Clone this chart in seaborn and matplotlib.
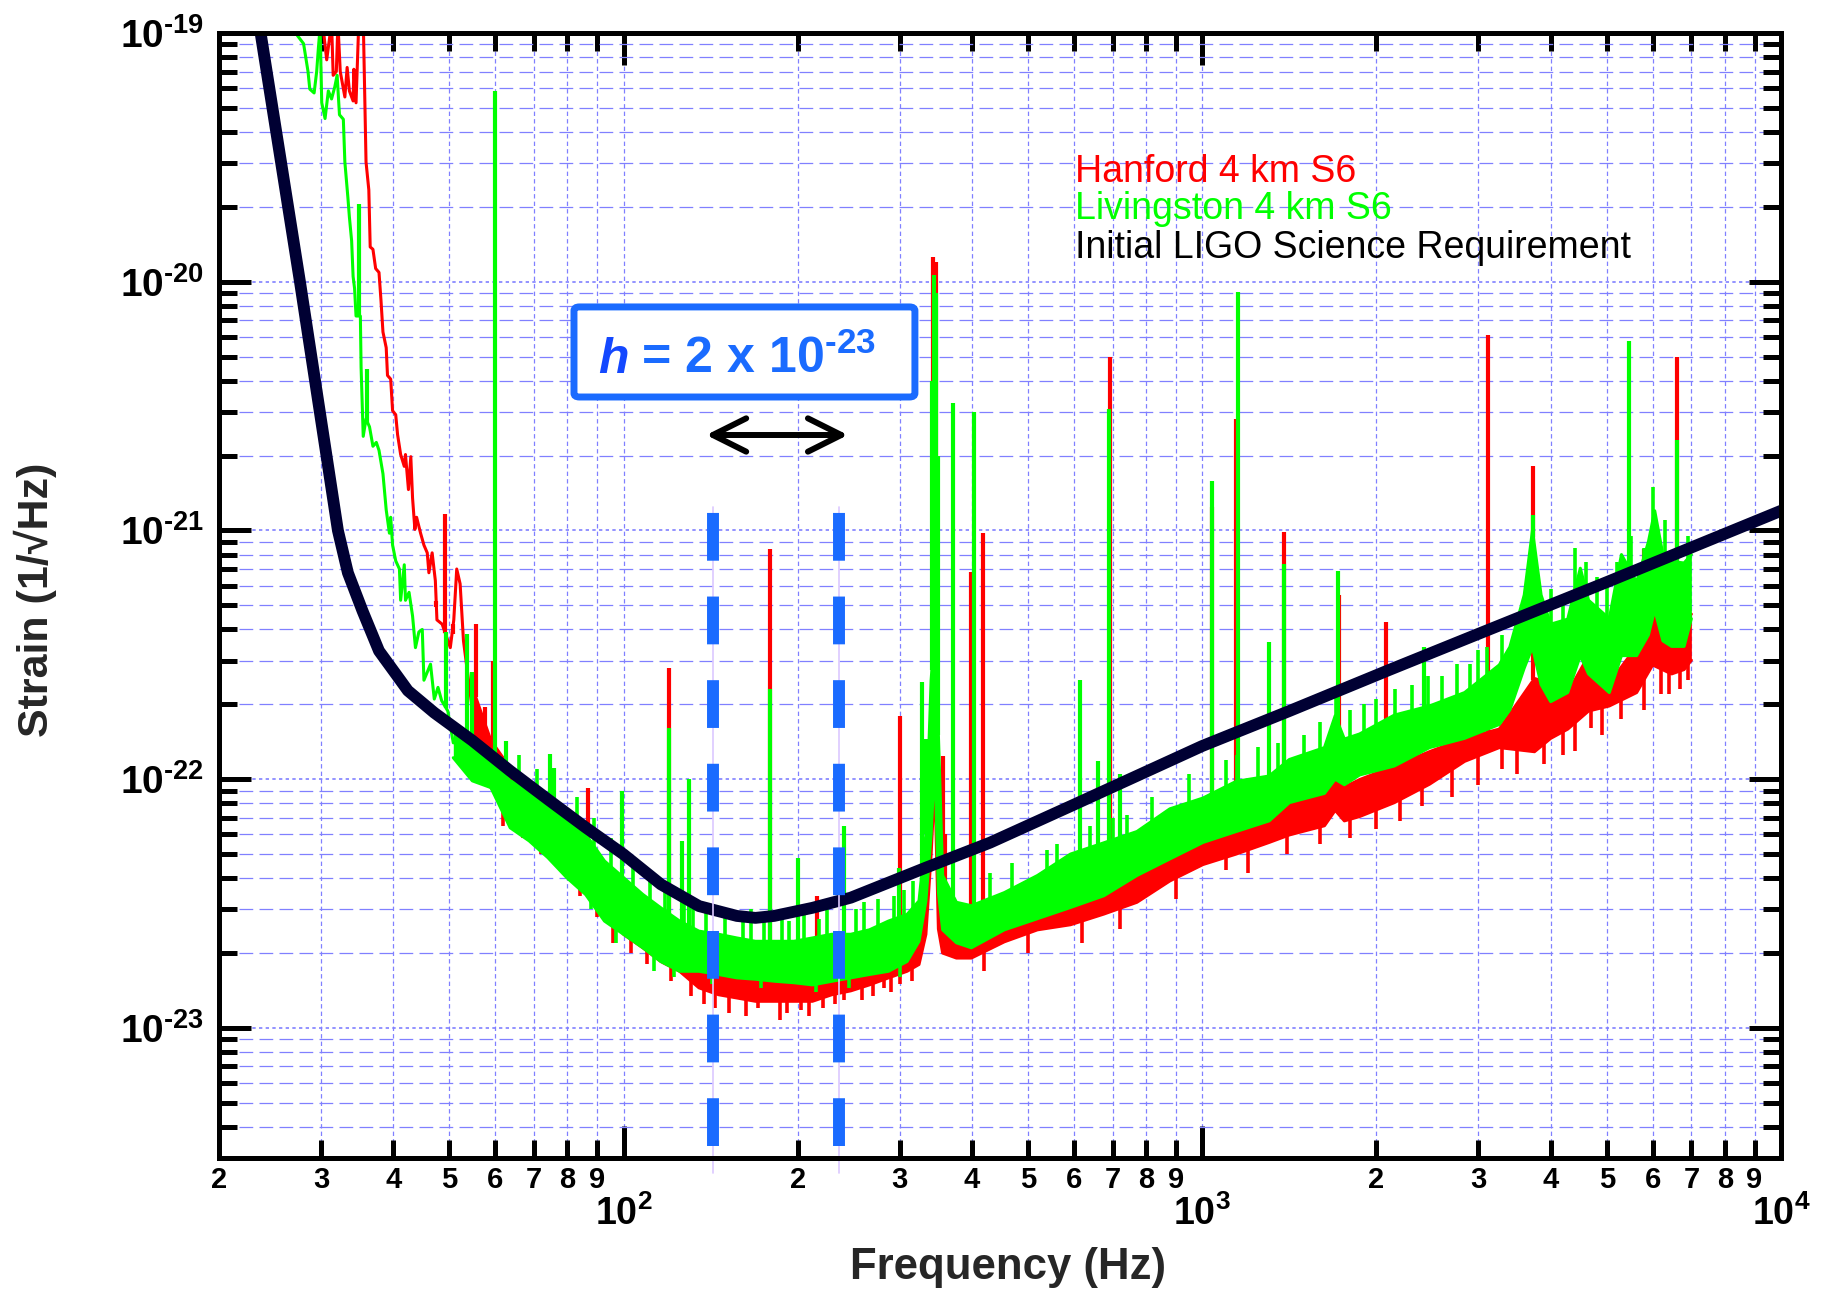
import numpy as np
import matplotlib
matplotlib.use("Agg")
import matplotlib.pyplot as plt
import seaborn as sns
from matplotlib.ticker import NullFormatter
from matplotlib.patches import FancyBboxPatch
from matplotlib.mathtext import MathTextParser
from matplotlib import font_manager

sns.set_theme(style="white")
plt.rcParams["font.family"] = ["Liberation Sans", "DejaVu Sans"]
plt.rcParams["mathtext.fontset"] = "custom"
plt.rcParams["mathtext.rm"] = "Liberation Sans:bold"
plt.rcParams["mathtext.bf"] = "Liberation Sans:bold"
plt.rcParams["mathtext.it"] = "Liberation Sans:italic"
plt.rcParams["mathtext.sf"] = "Liberation Sans"

_names = {f.name for f in font_manager.fontManager.ttflist}
NARROW = "Liberation Sans Narrow" if "Liberation Sans Narrow" in _names else "Liberation Sans"


def _has_text_cmd():
    try:
        MathTextParser("path").parse(r"$\text{-}$")
        return True
    except Exception:
        return False


HYPHEN = r"\text{-}" if _has_text_cmd() else "-"

# ---------------- data ----------------
# Initial LIGO science requirement (strain, 1/sqrt(Hz))
req_f = [23.2, 23.6, 27.6, 32.1, 33.4, 35.4, 37.8, 40.6, 42.4, 47.1, 54.8, 63.7, 74.0, 86.0,
         100, 116, 135, 157, 169, 182, 212, 247, 287, 333, 430, 600, 1000, 1414, 2096,
         3000, 5000, 10000]
req_h = [1.3e-19, 1.0e-19, 1.0e-20, 1.0e-21, 6.76e-22, 4.75e-22, 3.28e-22, 2.61e-22, 2.27e-22,
         1.85e-22, 1.43e-22, 1.08e-22, 8.3e-23, 6.4e-23, 4.99e-23, 3.78e-23, 3.09e-23,
         2.82e-23, 2.77e-23, 2.82e-23, 3.04e-23, 3.34e-23, 3.84e-23, 4.41e-23, 5.56e-23,
         7.9e-23, 1.36e-22, 1.88e-22, 2.74e-22, 3.84e-22, 6.2e-22, 1.2e-21]

# Hanford 4 km S6: low-frequency trace, noise band (upper / lower edge), lines, noise excursions
han_trace_f = [30.0, 30.2, 30.7, 31.3, 31.5, 31.9, 32.1, 32.4, 33.0, 33.3, 33.6, 34.1, 34.2,
               34.5, 34.9, 35.5, 35.9, 36.3, 36.5, 36.9, 37.3, 37.8, 38.1, 38.4, 38.9, 39.1,
               39.6, 39.9, 40.4, 40.7, 41.2, 41.8, 42.0, 42.5, 42.9, 43.2, 43.6, 43.9, 44.6,
               45.2, 45.8, 46.1, 46.7, 47.3, 47.6, 48.6, 50.2, 50.9, 51.5, 52.2, 52.9, 54.8]
han_trace_h = [1.2e-19, 1.1e-19, 7.8e-20, 1.1e-19, 6.76e-20, 7.0e-20, 1.1e-19, 7.0e-20,
               5.53e-20, 7.27e-20, 5.85e-20, 5.33e-20, 7.15e-20, 5.24e-20, 1.15e-19, 1.15e-19,
               3.03e-20, 2.34e-20, 1.38e-20, 1.35e-20, 1.13e-20, 1.09e-20, 8.42e-21, 6.28e-21,
               5.43e-21, 4.2e-21, 4.06e-21, 3.03e-21, 2.92e-21, 2.43e-21, 2.02e-21, 1.81e-21,
               2.02e-21, 1.46e-21, 1.98e-21, 1.35e-21, 1.01e-21, 1.13e-21, 9.75e-22, 8.73e-22,
               8.13e-22, 6.76e-22, 8.13e-22, 6.28e-22, 4.37e-22, 4.2e-22, 3.38e-22, 4.37e-22,
               7.0e-22, 6.1e-22, 3.6e-22, 1.9e-22]
han_band_f = [54.8, 59.0, 63.7, 68.7, 74.0, 79.8, 86.0, 92.7, 100, 108, 116, 125, 135, 146,
              157, 169, 183, 197, 212, 229, 247, 266, 287, 309, 324, 333, 340, 345, 350, 356,
              376, 399, 455, 519, 592, 676, 771, 879, 1003, 1144, 1305, 1414, 1626, 1697,
              1760, 1870, 2147, 2470, 2840, 3260, 3750, 4000, 4280, 4650, 5050, 5630, 6000,
              6470, 6800, 7000]
han_band_hi = [2.34e-22, 1.43e-22, 1.11e-22, 9.25e-23, 7.69e-23, 6.38e-23, 5.31e-23, 4.14e-23,
               3.44e-23, 3.04e-23, 2.69e-23, 2.45e-23, 2.23e-23, 2.10e-23, 2.04e-23, 1.97e-23,
               1.91e-23, 1.91e-23, 1.91e-23, 1.97e-23, 2.04e-23, 2.10e-23, 2.23e-23, 2.38e-23,
               2.69e-23, 4.41e-23, 2.0e-22, 3.0e-22, 1.0e-22, 2.8e-23, 2.48e-23, 2.36e-23,
               2.6e-23, 3.05e-23, 3.5e-23, 3.9e-23, 4.78e-23, 5.87e-23, 6.5e-23, 6.8e-23,
               7.6e-23, 8.05e-23, 8.77e-23, 1.1e-22, 9.3e-23, 9.96e-23, 1.13e-22, 1.29e-22,
               1.46e-22, 1.59e-22, 2.54e-22, 2.43e-22, 2.23e-22, 3.14e-22, 2.43e-22, 3.42e-22,
               5.24e-22, 4.61e-22, 4.42e-22, 4.61e-22]
han_band_lo = [1.43e-22, 9.25e-23, 7.69e-23, 6.38e-23, 5.31e-23, 4.55e-23, 3.66e-23, 2.95e-23,
               2.38e-23, 2.10e-23, 1.85e-23, 1.69e-23, 1.45e-23, 1.36e-23, 1.32e-23, 1.28e-23,
               1.28e-23, 1.28e-23, 1.28e-23, 1.36e-23, 1.41e-23, 1.49e-23, 1.59e-23, 1.69e-23,
               1.80e-23, 2.38e-23, 5.0e-23, 1.0e-22, 2.5e-23, 2.0e-23, 1.91e-23, 1.91e-23,
               2.22e-23, 2.48e-23, 2.6e-23, 2.87e-23, 3.2e-23, 3.9e-23, 4.54e-23, 5.0e-23,
               5.57e-23, 5.97e-23, 6.5e-23, 7.5e-23, 6.8e-23, 7.08e-23, 8.05e-23, 9.55e-23,
               1.18e-22, 1.34e-22, 1.29e-22, 1.46e-22, 1.59e-22, 1.88e-22, 1.97e-22, 2.23e-22,
               2.88e-22, 2.65e-22, 2.76e-22, 3.01e-22]
han_line_f = [47.5, 49.2, 50.8, 55.5, 57.7, 59.5, 86.7, 119.8, 179, 216, 300, 343, 346, 356,
              360, 399, 418, 692, 1040, 1144, 1384, 1720, 2080, 3117, 3733, 5800, 6600]
han_line_h = [5.2e-22, 1.17e-21, 3.84e-22, 4.2e-22, 1.95e-22, 3.0e-22, 9.25e-23, 2.8e-22,
              8.4e-22, 3.4e-23, 1.8e-22, 1.26e-20, 1.2e-20, 1.24e-22, 6.0e-23, 6.8e-22,
              9.8e-22, 5.0e-21, 1.24e-21, 2.81e-21, 9.9e-22, 5.5e-22, 4.27e-22, 6.1e-21,
              1.82e-21, 8.4e-22, 4.96e-21]
han_exc_f = [62, 67, 72, 78, 84, 90, 96, 103, 110, 121, 131, 138, 144, 152, 163, 171, 186,
             192, 203, 209, 221, 232, 240, 258, 270, 282, 290, 300, 315, 420, 500, 620, 720,
             900, 1100, 1200, 1400, 1600, 1800, 2000, 2200, 2400, 2700, 3000, 3300, 3500,
             3900, 4200, 4400, 4700, 4900, 5300, 5800, 6200, 6400, 6700, 6900]
han_exc_h = [6.5e-23, 5.8e-23, 5.0e-23, 4.3e-23, 3.4e-23, 2.8e-23, 2.2e-23, 2.0e-23, 1.8e-23,
             1.55e-23, 1.35e-23, 1.25e-23, 1.2e-23, 1.15e-23, 1.12e-23, 1.2e-23, 1.08e-23,
             1.15e-23, 1.18e-23, 1.12e-23, 1.2e-23, 1.25e-23, 1.3e-23, 1.3e-23, 1.35e-23,
             1.45e-23, 1.4e-23, 1.5e-23, 1.55e-23, 1.7e-23, 2.0e-23, 2.2e-23, 2.5e-23,
             3.3e-23, 4.3e-23, 4.2e-23, 5.0e-23, 5.5e-23, 5.8e-23, 6.3e-23, 6.8e-23, 7.8e-23,
             8.5e-23, 9.5e-23, 1.1e-22, 1.05e-22, 1.15e-22, 1.25e-22, 1.3e-22, 1.6e-22,
             1.5e-22, 1.75e-22, 1.9e-22, 2.2e-22, 2.2e-22, 2.3e-22, 2.5e-22]

# Livingston 4 km S6
liv_trace_f = [27.2, 28.0, 28.5, 28.7, 29.2, 29.5, 29.7, 29.9, 30.1, 30.5, 30.9, 31.3, 31.7,
               32.0, 32.3, 32.8, 33.0, 33.4, 33.6, 33.9, 34.1, 34.3, 34.5, 35.1, 35.2, 35.5,
               35.9, 36.4, 36.9, 37.4, 37.8, 38.4, 38.9, 39.4, 39.6, 39.9, 40.4, 41.0, 41.2,
               41.8, 42.0, 42.6, 43.2, 43.7, 44.3, 44.9, 45.2, 46.4, 47.1, 47.8, 48.5, 49.7,
               50.8]
liv_trace_h = [9.9e-20, 9.06e-20, 7.0e-20, 5.95e-20, 5.74e-20, 7.0e-20, 8.7e-20, 1.05e-19,
               5.24e-20, 4.53e-20, 5.85e-20, 5.43e-20, 6.07e-20, 6.76e-20, 4.69e-20, 4.5e-20,
               3.03e-20, 2.18e-20, 1.82e-20, 1.46e-20, 1.05e-20, 9.4e-21, 7.28e-21, 7.28e-21,
               4.53e-21, 2.39e-21, 2.81e-21, 2.61e-21, 2.18e-21, 2.26e-21, 2.1e-21, 1.69e-21,
               1.21e-21, 9.75e-22, 1.13e-21, 8.73e-22, 7.55e-22, 7.0e-22, 5.24e-22, 7.28e-22,
               5.24e-22, 5.64e-22, 4.53e-22, 3.38e-22, 3.91e-22, 4.0e-22, 2.5e-22, 2.9e-22,
               2.1e-22, 2.34e-22, 2.07e-22, 1.88e-22, 1.4e-22]
liv_band_f = [50.8, 54.8, 59.0, 63.7, 68.7, 74.0, 79.8, 86.0, 92.7, 100, 108, 116, 125, 135,
              146, 157, 169, 183, 197, 212, 229, 247, 266, 287, 309, 324, 333, 340, 345, 350,
              356, 376, 399, 455, 519, 592, 676, 771, 879, 1003, 1144, 1305, 1414, 1626, 1697,
              1760, 1870, 2147, 2470, 2840, 3260, 3400, 3600, 3720, 3850, 4000, 4280, 4500,
              4650, 5050, 5300, 5630, 5900, 6050, 6250, 6470, 6800, 7000]
liv_band_hi = [1.61e-22, 1.34e-22, 1.22e-22, 9.85e-23, 9.25e-23, 8.18e-23, 7.23e-23, 6.01e-23,
               4.69e-23, 4.02e-23, 3.44e-23, 3.04e-23, 2.69e-23, 2.45e-23, 2.38e-23, 2.30e-23,
               2.23e-23, 2.23e-23, 2.23e-23, 2.30e-23, 2.38e-23, 2.38e-23, 2.48e-23, 2.69e-23,
               2.86e-23, 3.24e-23, 6.0e-23, 2.5e-22, 4.0e-22, 1.5e-22, 4.1e-23, 3.2e-23,
               3.1e-23, 3.5e-23, 4.1e-23, 5.0e-23, 5.55e-23, 6.16e-23, 7.6e-23, 8.4e-23,
               9.8e-23, 1.03e-22, 1.2e-22, 1.34e-22, 1.8e-22, 1.45e-22, 1.52e-22, 1.81e-22,
               1.97e-22, 2.23e-22, 2.88e-22, 3.4e-22, 5.5e-22, 1.0e-21, 5.5e-22, 4.2e-22,
               4.4e-22, 7.05e-22, 5.24e-22, 4.42e-22, 8.0e-22, 6.2e-22, 9.0e-22, 1.2e-21,
               8.0e-22, 7.5e-22, 7.4e-22, 8.0e-22]
liv_band_lo = [1.22e-22, 9.85e-23, 9.25e-23, 6.38e-23, 5.65e-23, 4.84e-23, 4.02e-23, 3.44e-23,
               2.69e-23, 2.38e-23, 2.10e-23, 1.85e-23, 1.69e-23, 1.69e-23, 1.64e-23, 1.59e-23,
               1.57e-23, 1.54e-23, 1.52e-23, 1.49e-23, 1.54e-23, 1.59e-23, 1.64e-23, 1.69e-23,
               1.85e-23, 2.23e-23, 3.24e-23, 6.0e-23, 1.2e-22, 3.5e-23, 2.48e-23, 2.2e-23,
               2.1e-23, 2.48e-23, 2.75e-23, 3.05e-23, 3.4e-23, 4.1e-23, 4.78e-23, 5.57e-23,
               6.16e-23, 6.8e-23, 8.05e-23, 8.77e-23, 1.0e-22, 9.5e-23, 1.04e-22, 1.13e-22,
               1.34e-22, 1.46e-22, 1.66e-22, 1.9e-22, 2.8e-22, 3.4e-22, 2.4e-22, 2.05e-22,
               2.23e-22, 3.14e-22, 2.65e-22, 2.23e-22, 3.14e-22, 3.14e-22, 3.8e-22, 4.8e-22,
               3.6e-22, 3.42e-22, 3.42e-22, 4.42e-22]
liv_line_f = [34.9, 36.1, 49.3, 53.6, 54.8, 60.0, 62.7, 74.6, 75.7, 99.2, 119.8, 126, 129.7,
              179, 200, 240, 299, 328, 333, 341, 344, 347, 350, 371, 404, 616, 660, 689, 720,
              1040, 1154, 1305, 1384, 1719, 2420, 3733, 5458, 6600]
liv_line_h = [2.06e-20, 4.45e-21, 3.9e-22, 3.84e-22, 2.7e-22, 5.84e-20, 1.43e-22, 1.26e-22,
              1.11e-22, 9.0e-23, 1.61e-22, 5.65e-23, 1.0e-22, 2.3e-22, 4.8e-23, 6.5e-23,
              4.4e-23, 2.45e-22, 1.45e-22, 4.0e-21, 1.06e-20, 9.0e-21, 2.0e-21, 3.24e-21,
              2.99e-21, 2.5e-22, 1.18e-22, 3.07e-21, 1.05e-22, 1.58e-21, 9.08e-21, 3.57e-22,
              7.3e-22, 6.9e-22, 3.4e-22, 1.15e-21, 5.8e-21, 2.3e-21]
liv_exc_f = [66, 71, 83, 88, 89, 95, 97, 104, 111, 113, 118, 122, 127, 132, 139, 142, 150,
             161, 166, 173, 175, 188, 193, 205, 215, 218, 225, 245, 252, 260, 275, 293, 300,
             305, 316, 430, 470, 540, 560, 640, 700, 740, 820, 950, 1100, 1150, 1250, 1350,
             1500, 1600, 1700, 1800, 1900, 2000, 2150, 2300, 2450, 2600, 2750, 2900, 3000,
             3100, 3300, 3500, 4000, 4200, 4400, 4600, 4800, 5000, 5200, 5500, 5800, 6000,
             6300, 6600, 6900]
liv_exc_h = [1.25e-22, 1.1e-22, 8.5e-23, 3.0e-23, 7.0e-23, 5.8e-23, 2.2e-23, 4.6e-23, 4.1e-23,
             1.7e-23, 3.8e-23, 1.6e-23, 3.4e-23, 3.1e-23, 3.0e-23, 1.5e-23, 2.9e-23, 2.8e-23,
             3.0e-23, 1.45e-23, 2.75e-23, 2.8e-23, 2.7e-23, 2.85e-23, 1.4e-23, 2.75e-23,
             3.0e-23, 1.45e-23, 3.0e-23, 3.2e-23, 3.3e-23, 3.4e-23, 1.6e-23, 3.6e-23, 3.9e-23,
             4.2e-23, 4.6e-23, 5.2e-23, 5.5e-23, 6.5e-23, 7.0e-23, 7.2e-23, 8.5e-23, 1.05e-22,
             1.2e-22, 1.25e-22, 1.35e-22, 1.4e-22, 1.5e-22, 1.7e-22, 2.3e-22, 1.9e-22, 2.0e-22,
             2.1e-22, 2.3e-22, 2.4e-22, 2.6e-22, 2.6e-22, 2.9e-22, 2.9e-22, 3.3e-22, 3.4e-22,
             3.8e-22, 4.6e-22, 5.8e-22, 5.5e-22, 8.5e-22, 7.5e-22, 6.5e-22, 6.5e-22, 7.5e-22,
             9.5e-22, 8.5e-22, 1.5e-21, 1.1e-21, 1.0e-21, 9.5e-22]

# Frequency band of best sensitivity
band_edges = [142.5, 235.5]

legend_entries = ["Hanford 4 km S6", "Livingston 4 km S6", "Initial LIGO Science Requirement"]

x_major = [100, 1000, 10000]
x_major_labels = [r"$\mathbf{10^{2}}$", r"$\mathbf{10^{3}}$", r"$\mathbf{10^{4}}$"]
x_minor = [m * d for d in (10, 100, 1000) for m in range(2, 10)]
x_minor_labels = [str(m) for d in (10, 100, 1000) for m in range(2, 10)]
y_major = [1e-23, 1e-22, 1e-21, 1e-20, 1e-19]
y_major_exps = [23, 22, 21, 20, 19]
y_minor = [m * 10.0 ** e for e in range(-24, -19) for m in range(2, 10) if m * 10.0 ** e >= 3e-24]

RED = "#ff0000"
GREEN = "#00ff00"
NAVY = "#000033"
BLUE = "#1a6bff"
GRID = "#8080ff"

# ---------------- figure ----------------
fig = plt.figure(figsize=(18.28, 12.94), dpi=100)
ax = fig.add_axes([0.1198, 0.1051, 0.8545, 0.8694])
ax.set_xscale("log")
ax.set_yscale("log")
ax.set_xlim(20, 1e4)
ax.set_ylim(3e-24, 1e-19)

ax.set_xticks(x_major, labels=x_major_labels, fontsize=27)
ax.set_xticks(x_minor, labels=x_minor_labels, minor=True, fontsize=21,
              fontweight="bold", family=NARROW)
y_labels = [r"$\mathbf{10^{%s%d}}$" % (HYPHEN, e) for e in y_major_exps]
ax.set_yticks(y_major, labels=y_labels, fontsize=28)
ax.set_yticks(y_minor, minor=True)
ax.yaxis.set_minor_formatter(NullFormatter())

ax.tick_params(which="both", direction="in", top=True, bottom=True, left=True, right=True,
               color="black", width=3.6, labelcolor="black")
ax.tick_params(which="major", length=23)
ax.tick_params(which="minor", length=13)
ax.tick_params(axis="y", which="major", pad=11)
ax.tick_params(axis="x", which="minor", pad=6)
ax.tick_params(axis="x", which="major", pad=27)

for sp in ax.spines.values():
    sp.set_linewidth(3.6)
    sp.set_color("black")
    sp.set_zorder(10)

ax.set_axisbelow(True)
ax.xaxis.grid(True, which="both", color=GRID, lw=0.9, ls=(0, (3.5, 2.5)))
ax.yaxis.grid(True, which="minor", color=GRID, lw=0.9, ls=(0, (11, 5)))
ax.yaxis.grid(True, which="major", color=GRID, lw=1.2, ls=(0, (2, 2)))


def draw_detector(trace_f, trace_h, band_f, band_hi, band_lo, line_f, line_h,
                  exc_f, exc_h, color, z):
    trace_f, trace_h = np.asarray(trace_f), np.asarray(trace_h)
    band_f, band_hi, band_lo = np.asarray(band_f), np.asarray(band_hi), np.asarray(band_lo)
    ax.fill_between(band_f, band_lo, band_hi, color=color, lw=0, zorder=z)
    for yy in (band_hi, band_lo):
        sns.lineplot(x=band_f, y=yy, ax=ax, color=color, lw=2.2, estimator=None,
                     sort=False, zorder=z)
    sns.lineplot(x=trace_f, y=trace_h, ax=ax, color=color, lw=2.2, estimator=None,
                 sort=False, zorder=z)
    # spectral lines rise from the top of the noise
    upper_f = np.concatenate([trace_f, band_f])
    upper_h = np.concatenate([trace_h, band_hi])
    base = 10 ** np.interp(np.log10(line_f), np.log10(upper_f), np.log10(upper_h))
    ax.vlines(line_f, base, line_h, color=color, lw=3.0, zorder=z)
    # noise excursions start from the middle of the band
    mid = 10 ** np.interp(np.log10(exc_f), np.log10(band_f),
                          0.5 * (np.log10(band_hi) + np.log10(band_lo)))
    ax.vlines(exc_f, mid, exc_h, color=color, lw=2.6, zorder=z)


draw_detector(han_trace_f, han_trace_h, han_band_f, han_band_hi, han_band_lo,
              han_line_f, han_line_h, han_exc_f, han_exc_h, RED, 2)
draw_detector(liv_trace_f, liv_trace_h, liv_band_f, liv_band_hi, liv_band_lo,
              liv_line_f, liv_line_h, liv_exc_f, liv_exc_h, GREEN, 3)

sns.lineplot(x=req_f, y=req_h, ax=ax, color=NAVY, lw=8.5, estimator=None, sort=False,
             zorder=5, solid_joinstyle="round")

# band markers
for f in band_edges:
    ax.plot([f, f], [2.6e-24, 1.24e-21], color="#dcc8ff", lw=1.2, zorder=6, clip_on=False)
    ax.plot([f, f], [3.35e-24, 1.24e-21], color=BLUE, lw=8.6, ls=(0, (4, 3)),
            dash_capstyle="butt", zorder=7)

ax.annotate("", xy=(band_edges[1] * 1.037, 2.42e-21), xytext=(band_edges[0] * 0.975, 2.42e-21),
            arrowprops=dict(arrowstyle="<->,head_length=0.8,head_width=0.4", lw=4.3,
                            color="black", mutation_scale=30, shrinkA=0, shrinkB=0,
                            capstyle="round", joinstyle="round"),
            zorder=8)

# boxed strain level
box = FancyBboxPatch((0.3140, 0.6932), 0.1865, 0.0696,
                     boxstyle="round,pad=0,rounding_size=0.003",
                     transform=fig.transFigure, fc="white", ec=BLUE, lw=5, zorder=2)
fig.add_artist(box)
t_h = fig.text(0.3271, 0.7117, "h", fontsize=36, fontweight="bold", style="italic",
               color="#1448ff", ha="left", va="baseline", zorder=4)
renderer = fig.canvas.get_renderer()
bb = t_h.get_window_extent(renderer)
fig.text(bb.x1 / fig.bbox.width, 0.7117, r" = 2 x 10$^{\mathbf{%s23}}$" % HYPHEN,
         fontsize=36, fontweight="bold", color=BLUE, ha="left", va="baseline", zorder=4)

# legend text
for label, color, y in zip(legend_entries, [RED, GREEN, "black"], [0.8593, 0.8307, 0.8006]):
    fig.text(0.588, y, label, color=color, fontsize=27, ha="left", va="baseline")

fig.text(0.5514, 0.0201, "Frequency (Hz)", fontsize=31.5, fontweight="bold",
         ha="center", va="center")
fig.text(0.0191, 0.5363, "Strain (1/\u221aHz)", fontsize=31, fontweight="bold",
         rotation=90, ha="center", va="center")

fig.savefig("out.png", dpi=100)
